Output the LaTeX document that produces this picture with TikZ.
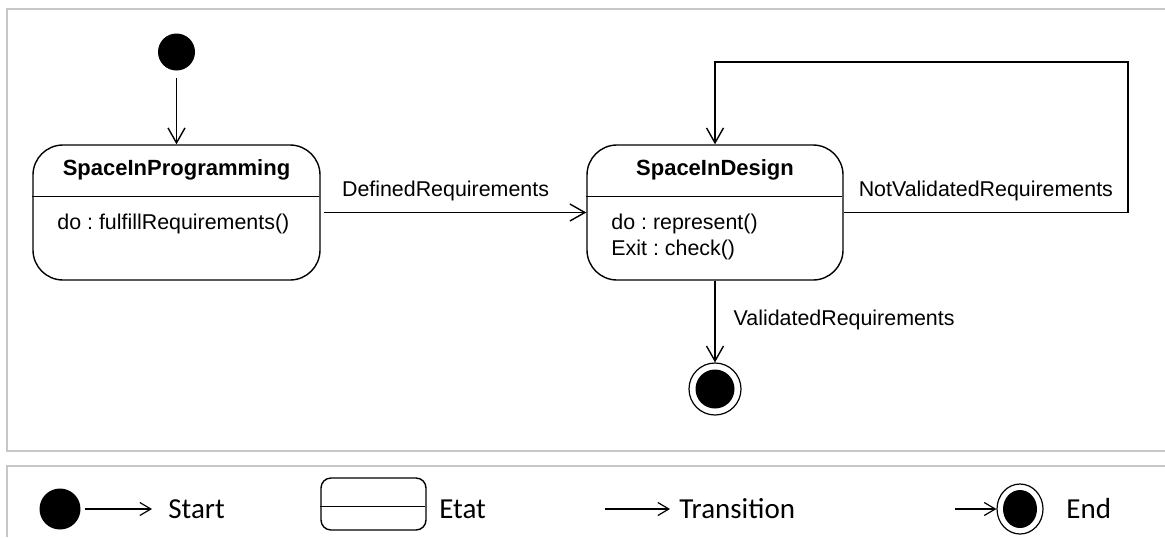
\documentclass[tikz,border=0pt]{standalone}
\usepackage{fontspec}
\setmainfont{Liberation Sans}
\newfontfamily\legendfont{Carlito}
\usetikzlibrary{arrows.meta,shapes.geometric}
\frenchspacing

\begin{document}
\begin{tikzpicture}[x=0.5pt, y=-0.5pt,
  every node/.style={font=\fontsize{10.7}{13}\selectfont, inner sep=0pt},
  state/.style={draw, line width=0.7pt, rounded corners=15pt, minimum height=67.5pt},
  ttl/.style={font=\fontsize{11}{13}\selectfont\bfseries},
  trans/.style={line width=0.7pt, -{Straight Barb[length=7.5pt,width=8.5pt]}},
  ltrans/.style={line width=0.6pt, -{Straight Barb[length=5.5pt,width=6.5pt]}},
  dot/.style={circle, fill=black, inner sep=0pt},
  ring/.style={ellipse, draw, line width=0.6pt, inner sep=0pt},
  frame/.style={draw=black!22, line width=1pt},
  leg/.style={font=\legendfont\fontsize{14.5}{17}\selectfont, anchor=west}]
\useasboundingbox (0,0) rectangle (1165,537);

% frames
\draw[frame] (1165,9) -- (7,9) -- (7,451) -- (1165,451);
\draw[frame] (7,537) -- (7,466) -- (1165,466);

% states
\node[dot, minimum size=18.5pt] (init) at (176.5,52) {};
\node[state, minimum width=143.5pt] (prog) at (176.5,212.5) {};
\node[state, minimum width=128pt] (design) at (715,212.5) {};
\draw[line width=0.7pt] (prog.north west) ++(0,52) -- ++(287,0);
\draw[line width=0.7pt] (design.north west) ++(0,52) -- ++(256,0);
\node[ttl] (progt) at (176.5,170) {SpaceInProgramming};
\node[anchor=west] (progb) at (57,224) {do : fulfillRequirements()};
\node[ttl] (designt) at (715,170) {SpaceInDesign};
\node[anchor=west, align=left] (designb) at (611,237) {do : represent()\\Exit : check()};
\node[ring, minimum width=26pt, minimum height=26pt] (fin) at (715,389) {};
\node[dot, minimum size=19.5pt] (finc) at (fin) {};

% transitions
\coordinate (loopr) at (1128,62);
\draw[trans, shorten <=3.7pt] (init) -- (prog);
\draw[trans, shorten <=1.5pt] (prog) -- node[pos=0.47, yshift=10.75pt] {DefinedRequirements} (design);
\draw[trans] (design.east) -| node[pos=0.25, yshift=10.75pt] {NotValidatedRequirements} (loopr) -| (design.north);
\draw[trans] (design.south) -- node[pos=0.48, anchor=west, xshift=9pt] {ValidatedRequirements} (fin);

% legend
\node[dot, minimum size=20.5pt] (lgstart) at (60,509) {};
\coordinate (lgstarte) at (152,509);
\draw[ltrans, shorten <=2pt] (lgstart) -- (lgstarte);
\node[leg] (lgstartt) at (168,509) {Start};
\node[draw, line width=0.7pt, rounded corners=5pt, minimum width=52.5pt, minimum height=26pt] (lgetat) at (373.5,504) {};
\draw[line width=0.7pt] (lgetat.north west) ++(0,29) -- ++(105,0);
\node[leg] (lgetatt) at (439,509) {Etat};
\coordinate (lgta) at (605,509);
\coordinate (lgtb) at (670,509);
\draw[ltrans] (lgta) -- (lgtb);
\node[leg] (lgtranst) at (679,509) {Transition};
\node[ring, minimum width=23pt, minimum height=25pt] (lgend) at (1020,509) {};
\node[dot, ellipse, minimum width=17pt, minimum height=19pt] (lgendc) at (lgend) {};
\coordinate (lgea) at (955,509);
\draw[ltrans] (lgea) -- (lgend);
\node[leg] (lgendt) at (1066,509) {End};
\end{tikzpicture}
\end{document}
